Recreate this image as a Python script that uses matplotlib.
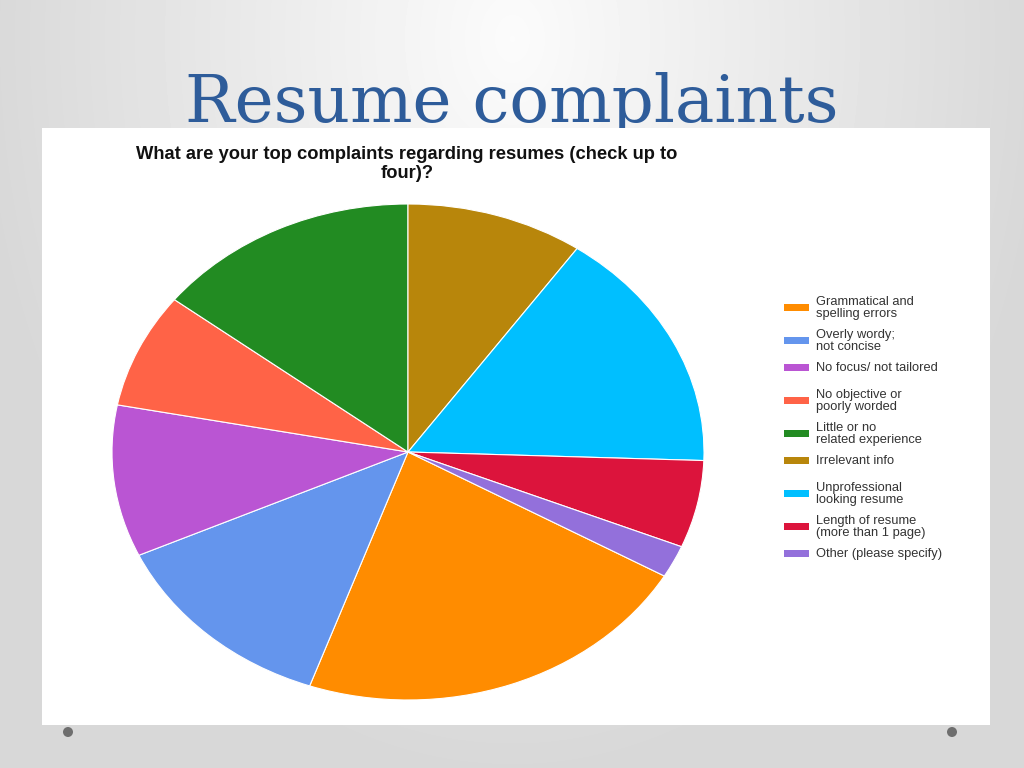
import numpy as np
import matplotlib.pyplot as plt
from matplotlib.patches import Rectangle, Circle

labels = [
    "Grammatical and\nspelling errors",
    "Overly wordy;\nnot concise",
    "No focus/ not tailored",
    "No objective or\npoorly worded",
    "Little or no\nrelated experience",
    "Irrelevant info",
    "Unprofessional\nlooking resume",
    "Length of resume\n(more than 1 page)",
    "Other (please specify)",
]
shares = [22.1, 12.8, 9.9, 7.5, 14.5, 9.7, 15.9, 5.7, 2.1]
colors = ["#ff8c00", "#6495ed", "#ba55d3", "#ff6347", "#228b22",
          "#b8860b", "#00bfff", "#dc143c", "#9370db"]

W, H = 1024, 768
fig = plt.figure(figsize=(W / 100, H / 100), dpi=100)

# slide background: soft grey gradient, light at top centre
bg = fig.add_axes([0, 0, 1, 1], zorder=0)
yy, xx = np.mgrid[0:H, 0:W]
r = np.sqrt(((xx - W * 0.5) / (W * 0.6)) ** 2 + ((yy - H * 0.05) / (H * 1.1)) ** 2)
shade = np.clip(0.985 - 0.16 * r, 0.845, 0.985)
bg.imshow(shade, cmap="gray", vmin=0, vmax=1, extent=[0, W, H, 0], aspect="auto",
          interpolation="bilinear")
bg.set_xlim(0, W)
bg.set_ylim(H, 0)
bg.axis("off")

bg.text(512, 122, "Resume complaints", family="DejaVu Serif", fontsize=47.5,
        color="#2e5c9a", ha="center", va="baseline", zorder=1)
bg.add_patch(Rectangle((42, 128), 948, 597, facecolor="white", edgecolor="none", zorder=2))
for cx in (68, 952):
    bg.add_patch(Circle((cx, 732), 5, facecolor="#6e6e6e", edgecolor="none", zorder=3))

bg.text(407, 146, "What are your top complaints regarding resumes (check up to\nfour)?",
        family="Liberation Sans", fontweight="bold", fontsize=13.2, color="#111111",
        ha="center", va="top", linespacing=1.18, zorder=4)

# pie (elliptical)
ax = fig.add_axes([112 / W, 68 / H, 592 / W, 496 / H], zorder=5)
ax.pie(shares, colors=colors, startangle=-30, counterclock=False,
       wedgeprops=dict(edgecolor="white", linewidth=0.8))
ax.set_aspect("auto")
ax.set_xlim(-1, 1)
ax.set_ylim(-1, 1)

# legend
y = 301
for lab, c in zip(labels, colors):
    n = lab.count("\n") + 1
    mid = y + 6 * (n - 1)
    bg.add_patch(Rectangle((784, mid - 3.5), 25, 7, facecolor=c, edgecolor="none", zorder=4))
    bg.text(816, mid + 1, lab, family="Liberation Sans", fontsize=9.3, color="#333333",
            ha="left", va="center", linespacing=0.92, zorder=4)
    y += 33 if n > 1 else 27

fig.savefig("out.png", dpi=100)
